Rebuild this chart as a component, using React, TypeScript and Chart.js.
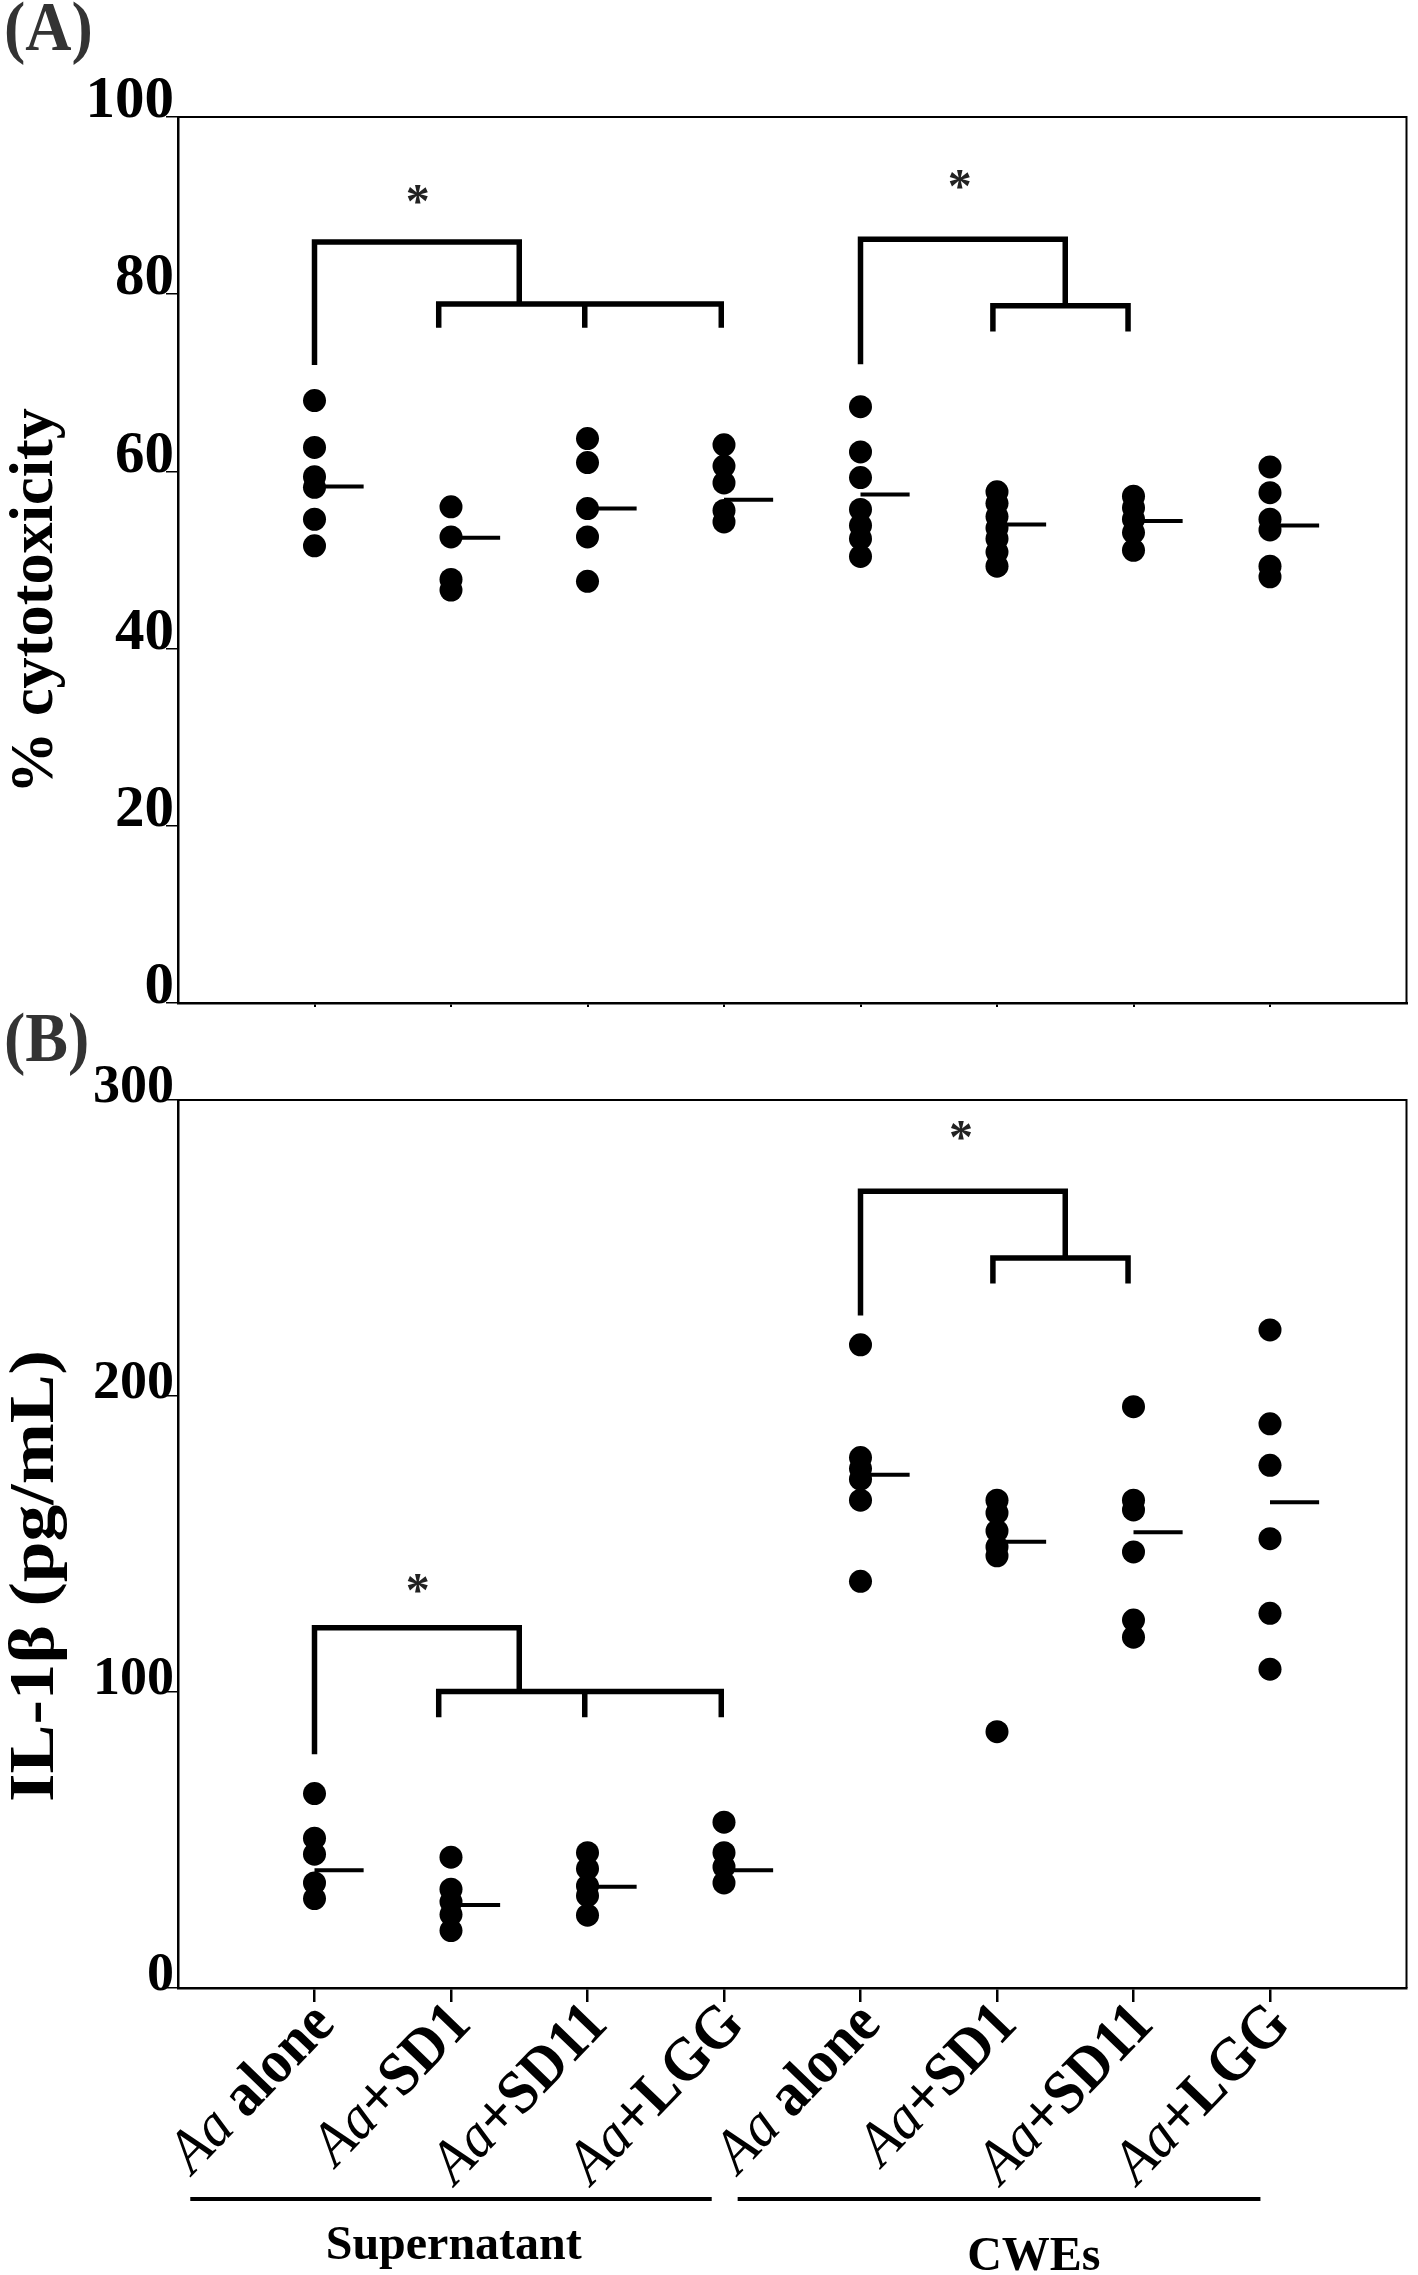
import React, { useEffect, useRef } from 'react';
import { Chart, registerables } from 'chart.js';

Chart.register(...registerables);

const SERIF = '"Liberation Serif", "Times New Roman", Times, serif';

// ---------- categories / labels ----------
const categoryPositions = [1, 2, 3, 4, 5, 6, 7, 8];
const labelPrefix = 'Aa';
const labelSuffixes = [' alone', '+SD1', '+SD11', '+LGG', ' alone', '+SD1', '+SD11', '+LGG'];
const groupNames = ['Supernatant', 'CWEs'];
const groupLineStart = [0.09, 4.1];
const groupLineEnd = [3.91, 7.93];
const groupNameCenter = [2.02, 6.27];

const yTicksA = [0, 20, 40, 60, 80, 100];
const yTicksB = [0, 100, 200, 300];

// ---------- Panel A: % cytotoxicity ----------
const cytoSupAlone = [68.0, 62.7, 59.4, 58.2, 54.6, 51.6];
const cytoSupSD1 = [56.0, 52.6, 47.8, 46.6];
const cytoSupSD11 = [63.7, 61.0, 55.8, 52.6, 47.6];
const cytoSupLGG = [63.0, 60.6, 58.7, 55.6, 54.3];
const cytoCweAlone = [67.3, 62.2, 59.3, 55.7, 53.9, 52.4, 50.4];
const cytoCweSD1 = [57.7, 56.4, 54.9, 53.6, 52.4, 50.9, 49.3];
const cytoCweSD11 = [57.2, 55.9, 54.6, 53.1, 51.1];
const cytoCweLGG = [60.5, 57.6, 54.6, 53.4, 49.3, 48.1];
const cytoMeans = [58.3, 52.5, 55.8, 56.8, 57.4, 54.0, 54.4, 53.9];

// ---------- Panel B: IL-1beta (pg/mL) ----------
const il1bSupAlone = [65.7, 50.6, 45.2, 35.5, 30.2];
const il1bSupSD1 = [44.2, 33.4, 29.1, 24.8, 19.4];
const il1bSupSD11 = [45.7, 40.3, 34.5, 31.2, 24.6];
const il1bSupLGG = [56.0, 45.7, 40.9, 35.5];
const il1bCweAlone = [217.3, 179.2, 175.5, 171.9, 164.8, 137.4];
const il1bCweSD1 = [164.8, 160.5, 154.4, 149.0, 146.0, 86.6];
const il1bCweSD11 = [196.4, 164.8, 161.5, 147.3, 124.3, 118.5];
const il1bCweLGG = [222.3, 190.6, 176.6, 151.8, 126.6, 107.7];
const il1bMeans = [39.8, 28.0, 34.2, 39.8, 173.4, 150.8, 154.0, 164.1];

// ---------- significance brackets (data coordinates) ----------
const bracketStemX = [1, 5];
const bracketJoinX = [2.5, 6.5];
const bracketArmsX = [[1.91, 2.98, 3.98], [5.97, 6.96]];
const bracketTopA = [85.9, 86.2];
const bracketStemEndA = [72.0, 72.1];
const bracketBarA = [78.9, 78.7];
const bracketArmEndA = [76.2, 75.8];
const starXA = [1.76, 5.73];
const starYA = [91.2, 93.0];

const bracketTopB = [121.7, 269.2];
const bracketStemEndB = [79.0, 227.2];
const bracketBarB = [100.2, 246.6];
const bracketArmEndB = [91.5, 238.0];
const starXB = [1.76, 5.74];
const starYB = [136.8, 289.7];

// ---------- layout ----------
const PAGE_W = 1418;
const PAGE_H = 2275;
const PLOT_LEFT = 178;
const PLOT_RIGHT = 1412;
const A_TOP = 117;
const A_BOTTOM = 1003;
const B_TOP = 1100;
const B_BOTTOM = 1988;
const X_AXIS_H = 20;
const MEAN_LEN = 0.36;

function buildDots(groups: number[][]) {
  const pts: any[] = [];
  groups.forEach((g, i) => g.forEach((v) => pts.push({ x: categoryPositions[i], y: v })));
  return pts;
}

function buildMeans(means: number[]) {
  const pts: any[] = [];
  means.forEach((m, i) => {
    const x = categoryPositions[i];
    pts.push({ x, y: m }, { x: x + MEAN_LEN, y: m }, { x: x + MEAN_LEN, y: null });
  });
  return pts;
}

function buildBrackets(top: number[], stemEnd: number[], bar: number[], armEnd: number[]) {
  const pts: any[] = [];
  for (let i = 0; i < bracketStemX.length; i++) {
    const s = bracketStemX[i];
    const j = bracketJoinX[i];
    const arms = bracketArmsX[i];
    const first = arms[0];
    const last = arms[arms.length - 1];
    pts.push(
      { x: s, y: stemEnd[i] },
      { x: s, y: top[i] },
      { x: j, y: top[i] },
      { x: j, y: bar[i] },
      { x: j, y: null },
      { x: first, y: armEnd[i] },
      { x: first, y: bar[i] },
      { x: last, y: bar[i] },
      { x: last, y: armEnd[i] },
      { x: last, y: null }
    );
    arms.slice(1, -1).forEach((a) => {
      pts.push({ x: a, y: bar[i] }, { x: a, y: armEnd[i] }, { x: a, y: null });
    });
  }
  return pts;
}

function fillCentered(ctx: CanvasRenderingContext2D, text: string, cx: number, cy: number) {
  ctx.textAlign = 'left';
  ctx.textBaseline = 'alphabetic';
  const m = ctx.measureText(text);
  const w = m.actualBoundingBoxLeft + m.actualBoundingBoxRight;
  const asc = m.actualBoundingBoxAscent;
  const desc = m.actualBoundingBoxDescent;
  ctx.fillText(text, cx - w / 2 + m.actualBoundingBoxLeft, cy + (asc - desc) / 2);
}

function drawYTitle(ctx: CanvasRenderingContext2D, text: string, baseX: number, centerY: number, size: number, length: number) {
  ctx.save();
  ctx.font = `bold ${size}px ${SERIF}`;
  const w = ctx.measureText(text).width;
  ctx.translate(baseX, centerY);
  ctx.rotate(-Math.PI / 2);
  ctx.scale(length / w, 1);
  ctx.textAlign = 'center';
  ctx.textBaseline = 'alphabetic';
  ctx.fillStyle = '#000';
  ctx.fillText(text, 0, 0);
  ctx.restore();
}

function drawPanelLetter(ctx: CanvasRenderingContext2D, text: string, x: number, baseline: number) {
  ctx.save();
  ctx.fillStyle = '#333';
  ctx.font = `bold 64px ${SERIF}`;
  ctx.textAlign = 'left';
  ctx.textBaseline = 'alphabetic';
  ctx.translate(x, baseline);
  ctx.scale(1, 1.1);
  ctx.fillText(text, 0, 0);
  ctx.restore();
}

function makeDatasets(groups: number[][], means: number[], brackets: any[]) {
  return [
    {
      type: 'line',
      data: brackets,
      borderColor: '#000',
      borderWidth: 5.5,
      borderCapStyle: 'butt',
      borderJoinStyle: 'miter',
      pointRadius: 0,
      pointHitRadius: 0,
      spanGaps: false,
      tension: 0,
      fill: false,
    },
    {
      type: 'line',
      data: buildMeans(means),
      borderColor: '#000',
      borderWidth: 4,
      borderCapStyle: 'butt',
      pointRadius: 0,
      pointHitRadius: 0,
      spanGaps: false,
      tension: 0,
      fill: false,
    },
    {
      type: 'scatter',
      data: buildDots(groups),
      pointRadius: 11.5,
      pointBackgroundColor: '#000',
      pointBorderWidth: 0,
      pointBorderColor: '#000',
      showLine: false,
    },
  ];
}

function makeOptions(o: {
  top: number;
  bottom: number;
  yMax: number;
  yTicks: number[];
  tickFont: number;
  labelOffset: number;
  xTickLen: number;
  xTickWidth: number;
}) {
  return {
    responsive: false,
    animation: false,
    events: [],
    layout: {
      padding: { top: o.top, right: PAGE_W - PLOT_RIGHT, bottom: PAGE_H - o.bottom - X_AXIS_H, left: 0 },
    },
    plugins: { legend: { display: false }, tooltip: { enabled: false }, title: { display: false } },
    scales: {
      x: {
        type: 'linear',
        min: 0,
        max: 9,
        afterBuildTicks: (ax: any) => {
          ax.ticks = categoryPositions.map((v) => ({ value: v }));
        },
        afterFit: (ax: any) => {
          ax.height = X_AXIS_H;
        },
        ticks: { display: false },
        grid: {
          display: true,
          drawOnChartArea: false,
          drawTicks: true,
          tickLength: o.xTickLen,
          color: '#000',
          lineWidth: o.xTickWidth,
        },
        border: { display: true, color: '#000', width: 2.5 },
      },
      y: {
        type: 'linear',
        min: 0,
        max: o.yMax,
        afterBuildTicks: (ax: any) => {
          ax.ticks = o.yTicks.map((v) => ({ value: v }));
        },
        afterFit: (ax: any) => {
          ax.width = PLOT_LEFT;
        },
        ticks: {
          font: { family: SERIF, size: o.tickFont, weight: 'bold' },
          color: '#000',
          padding: -8,
          labelOffset: o.labelOffset,
          autoSkip: false,
        },
        grid: {
          display: true,
          drawOnChartArea: false,
          drawTicks: true,
          tickLength: 12,
          color: '#000',
          lineWidth: 1.5,
        },
        border: { display: true, color: '#000', width: 2.5 },
      },
    },
  };
}

function framePlugin(id: string) {
  return {
    id,
    afterDraw(chart: any) {
      const { ctx, chartArea } = chart;
      ctx.save();
      ctx.strokeStyle = '#000';
      ctx.lineWidth = 2;
      ctx.beginPath();
      ctx.moveTo(chartArea.left, chartArea.top);
      ctx.lineTo(chartArea.right, chartArea.top);
      ctx.lineTo(chartArea.right, chartArea.bottom);
      ctx.stroke();
      ctx.restore();
    },
  };
}

function starsPlugin(id: string, xs: number[], ys: number[]) {
  return {
    id,
    afterDraw(chart: any) {
      const { ctx } = chart;
      const xs_ = chart.scales.x;
      const ys_ = chart.scales.y;
      ctx.save();
      ctx.fillStyle = '#222';
      ctx.font = `bold 48px ${SERIF}`;
      xs.forEach((x, i) => fillCentered(ctx, '*', xs_.getPixelForValue(x), ys_.getPixelForValue(ys[i])));
      ctx.restore();
    },
  };
}

const panelAPlugin = {
  id: 'panelAText',
  afterDraw(chart: any) {
    const { ctx } = chart;
    drawPanelLetter(ctx, '(A)', 4, 50);
    drawYTitle(ctx, '% cytotoxicity', 52, 601, 61, 386);
  },
};

const panelBPlugin = {
  id: 'panelBText',
  afterDraw(chart: any) {
    const { ctx } = chart;
    const xScale = chart.scales.x;
    drawPanelLetter(ctx, '(B)', 4, 1061);
    drawYTitle(ctx, 'IL-1β (pg/mL)', 53, 1576, 64, 452);

    // rotated category labels
    const angle = (-46 * Math.PI) / 180;
    categoryPositions.forEach((c, i) => {
      const px = xScale.getPixelForValue(c);
      ctx.save();
      ctx.translate(px + 22, 2026);
      ctx.rotate(angle);
      ctx.scale(1, 1.08);
      ctx.fillStyle = '#000';
      ctx.textAlign = 'right';
      ctx.textBaseline = 'alphabetic';
      ctx.font = `bold 57px ${SERIF}`;
      const suffix = labelSuffixes[i];
      const sw = ctx.measureText(suffix).width;
      ctx.fillText(suffix, 0, 0);
      ctx.font = `italic 57px ${SERIF}`;
      ctx.fillText(labelPrefix, -sw, 0);
      ctx.restore();
    });

    // group lines and names
    const nameBaselines = [2259, 2270];
    ctx.save();
    ctx.strokeStyle = '#000';
    ctx.lineWidth = 4;
    ctx.lineCap = 'butt';
    groupNames.forEach((name, i) => {
      ctx.beginPath();
      ctx.moveTo(xScale.getPixelForValue(groupLineStart[i]), 2199);
      ctx.lineTo(xScale.getPixelForValue(groupLineEnd[i]), 2199);
      ctx.stroke();
      ctx.fillStyle = '#000';
      ctx.font = `bold 48px ${SERIF}`;
      ctx.textAlign = 'center';
      ctx.textBaseline = 'alphabetic';
      ctx.fillText(name, xScale.getPixelForValue(groupNameCenter[i]), nameBaselines[i]);
    });
    ctx.restore();
  },
};

export default function App() {
  const refA = useRef<HTMLCanvasElement>(null);
  const refB = useRef<HTMLCanvasElement>(null);

  useEffect(() => {
    let cancelled = false;
    let chartA: Chart | null = null;
    let chartB: Chart | null = null;

    const build = () => {
      if (cancelled || !refA.current || !refB.current) return;
      const groupsA = [cytoSupAlone, cytoSupSD1, cytoSupSD11, cytoSupLGG, cytoCweAlone, cytoCweSD1, cytoCweSD11, cytoCweLGG];
      const groupsB = [il1bSupAlone, il1bSupSD1, il1bSupSD11, il1bSupLGG, il1bCweAlone, il1bCweSD1, il1bCweSD11, il1bCweLGG];

      chartA = new Chart(refA.current, {
        type: 'scatter',
        data: {
          datasets: makeDatasets(groupsA, cytoMeans, buildBrackets(bracketTopA, bracketStemEndA, bracketBarA, bracketArmEndA)) as any,
        },
        options: makeOptions({
          top: A_TOP,
          bottom: A_BOTTOM,
          yMax: 100,
          yTicks: yTicksA,
          tickFont: 59,
          labelOffset: -15,
          xTickLen: 4,
          xTickWidth: 2,
        }) as any,
        plugins: [framePlugin('frameA'), starsPlugin('starsA', starXA, starYA), panelAPlugin],
      });

      chartB = new Chart(refB.current, {
        type: 'scatter',
        data: {
          datasets: makeDatasets(groupsB, il1bMeans, buildBrackets(bracketTopB, bracketStemEndB, bracketBarB, bracketArmEndB)) as any,
        },
        options: makeOptions({
          top: B_TOP,
          bottom: B_BOTTOM,
          yMax: 300,
          yTicks: yTicksB,
          tickFont: 54,
          labelOffset: -12,
          xTickLen: 14,
          xTickWidth: 2.5,
        }) as any,
        plugins: [framePlugin('frameB'), starsPlugin('starsB', starXB, starYB), panelBPlugin],
      });
    };

    const fontsApi: any = (document as any).fonts;
    if (fontsApi && fontsApi.load) {
      Promise.all([
        fontsApi.load(`bold 59px "Liberation Serif"`),
        fontsApi.load(`italic 57px "Liberation Serif"`),
        fontsApi.load(`57px "Liberation Serif"`),
      ])
        .catch(() => undefined)
        .then(build);
    } else {
      build();
    }

    return () => {
      cancelled = true;
      if (chartA) chartA.destroy();
      if (chartB) chartB.destroy();
    };
  }, []);

  return (
    <div
      style={{
        position: 'absolute',
        left: 0,
        top: 0,
        width: PAGE_W,
        height: PAGE_H,
        background: '#fff',
        overflow: 'hidden',
        fontFamily: SERIF,
      }}
    >
      <canvas ref={refA} width={PAGE_W} height={PAGE_H} style={{ position: 'absolute', left: 0, top: 0 }} />
      <canvas ref={refB} width={PAGE_W} height={PAGE_H} style={{ position: 'absolute', left: 0, top: 0 }} />
    </div>
  );
}
